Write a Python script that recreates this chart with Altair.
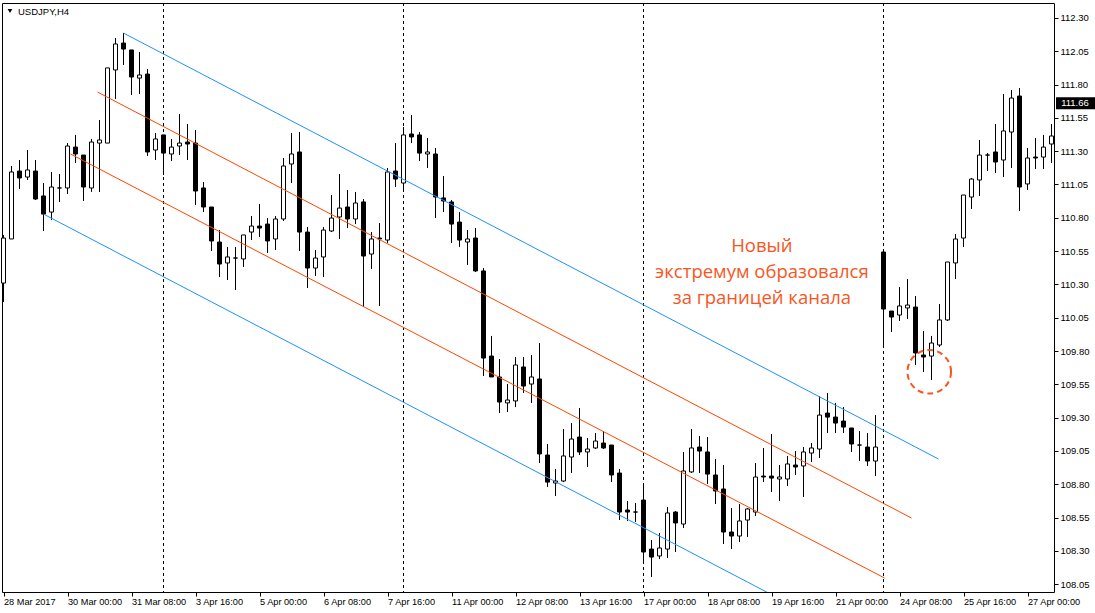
import altair as alt
import pandas as pd

# ---- candle data (USDJPY H4), bar index 0..131 ----
opens = [110.310, 110.641, 111.151, 111.106, 111.151, 110.964, 110.843, 111.024, 111.024, 111.331,
         111.271, 111.024, 111.361, 111.361, 111.910, 112.112, 112.060, 111.849, 111.879, 111.309,
         111.422, 111.279, 111.339, 111.369, 111.361, 111.024, 110.881, 110.618, 110.461, 110.498,
         110.491, 110.693, 110.738, 110.753, 110.641, 110.791, 111.204, 111.294, 110.693, 110.423,
         110.506, 110.701, 110.806, 110.881, 110.791, 110.919, 110.528, 110.648, 110.633, 111.151,
         111.061, 111.429, 111.422, 111.279, 111.279, 110.949, 110.919, 110.768, 110.618, 110.648,
         110.401, 109.762, 109.605, 109.410, 109.425, 109.680, 109.552, 109.590, 109.019, 108.809,
         108.824, 109.004, 109.154, 109.042, 109.072, 109.109, 109.094, 108.884, 108.606, 108.591,
         108.681, 108.313, 108.261, 108.313, 108.591, 108.501, 108.892, 109.079, 109.042, 108.869,
         108.764, 108.441, 108.411, 108.531, 108.591, 108.861, 108.861, 108.839, 108.839, 108.944,
         108.937, 109.034, 109.064, 109.334, 109.304, 109.274, 109.222, 109.094, 109.079, 108.974,
         110.543, 110.100, 110.070, 110.123, 110.130, 109.770, 109.762, 109.845, 110.033, 110.461,
         110.648, 110.956, 111.084, 111.271, 111.294, 111.234, 111.444, 111.714, 111.054, 111.256,
         111.256, 111.354]
highs = [110.671, 111.189, 111.234, 111.309, 111.234, 111.061, 111.144, 111.129, 111.361, 111.422,
         111.271, 111.392, 111.534, 111.925, 112.150, 112.187, 112.060, 112.045, 111.917, 111.437,
         111.422, 111.392, 111.579, 111.504, 111.459, 111.069, 110.881, 110.708, 110.581, 110.581,
         110.671, 110.813, 110.904, 110.798, 110.813, 111.249, 111.437, 111.444, 110.731, 110.558,
         110.731, 110.971, 111.129, 111.009, 110.994, 110.941, 110.693, 110.761, 111.174, 111.361,
         111.482, 111.572, 111.444, 111.399, 111.324, 111.114, 110.934, 110.843, 110.708, 110.723,
         110.423, 109.913, 109.740, 109.552, 109.755, 109.755, 109.770, 109.860, 109.102, 108.914,
         109.214, 109.259, 109.372, 109.147, 109.184, 109.199, 109.094, 108.914, 108.674, 108.659,
         108.809, 108.381, 108.434, 108.629, 108.599, 109.042, 109.214, 109.162, 109.154, 108.989,
         108.944, 108.621, 108.651, 108.621, 108.959, 109.072, 109.177, 108.944, 109.012, 109.049,
         109.079, 109.109, 109.462, 109.485, 109.410, 109.379, 109.222, 109.199, 109.184, 109.319,
         110.551, 110.100, 110.280, 110.340, 110.213, 109.950, 109.913, 110.153, 110.468, 110.678,
         110.971, 111.099, 111.384, 111.286, 111.504, 111.729, 111.759, 111.774, 111.324, 111.399,
         111.422, 111.504]
lows = [110.168, 110.641, 111.016, 111.084, 110.934, 110.701, 110.783, 110.919, 110.979, 111.211,
        110.926, 110.994, 110.994, 111.361, 111.692, 111.947, 111.722, 111.729, 111.264, 111.234,
        111.121, 111.226, 111.271, 111.234, 110.896, 110.843, 110.551, 110.355, 110.333, 110.258,
        110.431, 110.633, 110.656, 110.536, 110.558, 110.776, 111.061, 110.551, 110.273, 110.363,
        110.355, 110.693, 110.641, 110.723, 110.753, 110.130, 110.416, 110.138, 110.611, 111.031,
        110.994, 111.361, 111.226, 111.174, 110.798, 110.843, 110.611, 110.581, 110.446, 110.393,
        109.612, 109.605, 109.334, 109.342, 109.379, 109.485, 109.410, 108.959, 108.779, 108.711,
        108.816, 108.884, 109.019, 108.929, 109.064, 109.064, 108.816, 108.531, 108.524, 108.516,
        108.208, 108.103, 108.238, 108.246, 108.291, 108.471, 108.884, 108.884, 108.801, 108.651,
        108.351, 108.313, 108.366, 108.404, 108.561, 108.816, 108.741, 108.674, 108.786, 108.869,
        108.704, 108.967, 108.997, 109.184, 109.184, 109.184, 109.042, 108.974, 108.937, 108.861,
        109.830, 109.943, 110.025, 110.040, 109.695, 109.642, 109.582, 109.830, 110.025, 110.340,
        110.581, 110.866, 110.964, 111.151, 111.136, 111.106, 111.174, 110.851, 111.009, 111.166,
        111.166, 111.211]
closes = [110.648, 111.144, 111.099, 111.159, 110.941, 110.828, 111.031, 111.024, 111.339, 111.279,
          111.031, 111.369, 111.384, 111.925, 112.105, 112.067, 111.857, 111.872, 111.294, 111.392,
          111.286, 111.331, 111.361, 111.354, 111.001, 110.881, 110.626, 110.453, 110.506, 110.498,
          110.671, 110.738, 110.723, 110.626, 110.791, 111.189, 111.279, 110.693, 110.423, 110.498,
          110.708, 110.798, 110.873, 110.791, 110.911, 110.513, 110.641, 110.641, 111.144, 111.091,
          111.422, 111.407, 111.286, 111.294, 110.956, 110.926, 110.753, 110.633, 110.641, 110.401,
          109.747, 109.605, 109.417, 109.432, 109.695, 109.537, 109.605, 109.027, 108.816, 108.824,
          109.012, 109.139, 109.042, 109.064, 109.124, 109.072, 108.869, 108.591, 108.591, 108.591,
          108.291, 108.253, 108.321, 108.584, 108.509, 108.899, 109.072, 109.049, 108.876, 108.749,
          108.441, 108.411, 108.524, 108.614, 108.854, 108.854, 108.846, 108.854, 108.952, 108.929,
          109.042, 109.072, 109.319, 109.304, 109.259, 109.229, 109.102, 109.094, 108.974, 109.079,
          110.115, 110.055, 110.138, 110.145, 109.785, 109.755, 109.860, 110.033, 110.468, 110.641,
          110.971, 111.091, 111.271, 111.271, 111.219, 111.452, 111.699, 111.031, 111.249, 111.249,
          111.331, 111.414]
bars = list(range(len(opens)))

# ---- axis labels ----
time_tick_bars = [0, 8, 16, 24, 32, 40, 48, 56, 64, 72, 80, 88, 96, 104, 112, 120, 128]
time_tick_labels = ["28 Mar 2017", "30 Mar 00:00", "31 Mar 08:00", "3 Apr 16:00", "5 Apr 00:00",
                    "6 Apr 08:00", "7 Apr 16:00", "11 Apr 00:00", "12 Apr 08:00", "13 Apr 16:00",
                    "17 Apr 00:00", "18 Apr 08:00", "19 Apr 16:00", "21 Apr 00:00", "24 Apr 08:00",
                    "25 Apr 16:00", "27 Apr 00:00"]
price_ticks = [108.05, 108.30, 108.55, 108.80, 109.05, 109.30, 109.55, 109.80, 110.05, 110.30,
               110.55, 110.80, 111.05, 111.30, 111.55, 111.80, 112.05, 112.30]
week_separator_bars = [20, 50, 80, 110]

# ---- channel lines (endpoints: bar, price) ----
blue_line_id = ["upper", "upper", "lower", "lower"]
blue_bars = [15, 116.875, 5, 117]
blue_prices = [112.187, 108.989, 110.828, 107.312]
red_line_id = ["upper", "upper", "lower", "lower"]
red_bars = [11.75, 113.5, 8.375, 110.125]
red_prices = [111.744, 108.546, 111.279, 108.096]

# ---- annotation ----
note_lines = ["Новый", "экстремум образовался", "за границей канала"]
note_bar = [94.8, 94.8, 94.8]
note_price = [110.543, 110.348, 110.153]
circle_bar = [115.72]
circle_price = [109.644]
current_price = [111.66]
symbol_title = ["USDJPY,H4"]

FONT = "Liberation Sans"
ORANGE_TEXT = "#F8561E"
RED = "#FF4500"
BLUE = "#1E90FF"

candles = pd.DataFrame({"bar": bars, "open": opens, "high": highs, "low": lows, "close": closes})
candles["dir"] = ["up" if c >= o else "down" for o, c in zip(opens, closes)]

x_scale = alt.Scale(domain=[-0.1875, 131.3125], nice=False, zero=False, padding=0)
y_scale = alt.Scale(domain=[107.9907, 112.4126], nice=False, zero=False, padding=0)

label_array = "[" + ",".join("'" + s + "'" for s in time_tick_labels) + "]"
x_axis = alt.Axis(values=time_tick_bars, labelExpr=label_array + "[round(datum.value/8)]",
                  title=None, grid=False, domain=False, ticks=True, tickSize=4, tickColor="black",
                  labelAlign="left", labelBaseline="top", labelPadding=1, labelFont=FONT,
                  labelFontSize=9.2, labelColor="black", labelOverlap=False, labelFlush=False)
y_axis = alt.Axis(values=price_ticks, format=".2f", orient="right", title=None, grid=False,
                  domain=False, tickSize=4, tickColor="black", labelPadding=2, labelFont=FONT,
                  labelFontSize=9.5, labelColor="black", labelOverlap=False, labelFlush=False)


def X(field="bar"):
    return alt.X(field + ":Q", scale=x_scale, axis=x_axis)


def Y(field):
    return alt.Y(field + ":Q", scale=y_scale, axis=y_axis)


candle_base = alt.Chart(candles)

wicks = candle_base.mark_rule(color="black", strokeWidth=1).encode(
    x=X(), y=Y("low"), y2="high:Q")

bodies = candle_base.mark_bar(size=4, stroke="black", strokeWidth=1).encode(
    x=X(), y=Y("open"), y2="close:Q",
    fill=alt.Fill("dir:N", scale=alt.Scale(domain=["up", "down"], range=["white", "black"]), legend=None),
)

seps_df = pd.DataFrame({"bar": week_separator_bars})
seps = alt.Chart(seps_df).mark_rule(color="black", strokeWidth=1, strokeDash=[3, 3]).encode(x=X())

blue_df = pd.DataFrame({"bar": blue_bars, "price": blue_prices, "line": blue_line_id})
red_df = pd.DataFrame({"bar": red_bars, "price": red_prices, "line": red_line_id})

blue_lines = alt.Chart(blue_df).mark_line(color=BLUE, strokeWidth=1, clip=True).encode(
    x=X(), y=Y("price"), detail="line:N")
red_lines = alt.Chart(red_df).mark_line(color=RED, strokeWidth=1, clip=True).encode(
    x=X(), y=Y("price"), detail="line:N")

note = alt.Chart(pd.DataFrame({"bar": note_bar, "price": note_price, "t": note_lines})).mark_text(
    font="Open Sans", fontSize=18.5, color=ORANGE_TEXT, align="center", baseline="alphabetic"
).encode(x=X(), y=Y("price"), text="t:N")

circle = alt.Chart(pd.DataFrame({"bar": circle_bar, "price": circle_price})).mark_point(
    shape="circle", size=1900, filled=False, stroke=ORANGE_TEXT, strokeWidth=2,
    strokeDash=[6, 4], opacity=1
).encode(x=X(), y=Y("price"))

price_df = pd.DataFrame({"price": current_price})
price_box = alt.Chart(price_df).mark_tick(
    orient="horizontal", size=40, thickness=12, color="black", opacity=1
).encode(x=alt.value(1074), y=Y("price"))
price_text = alt.Chart(price_df).mark_text(
    font=FONT, fontSize=9.5, color="white", align="center", baseline="middle"
).encode(x=alt.value(1073), y=Y("price"), text=alt.Text("price:Q", format=".2f"))

title_df = pd.DataFrame({"t": symbol_title})
title_text = alt.Chart(title_df).mark_text(
    font=FONT, fontSize=9.5, color="black", align="left", baseline="middle"
).encode(x=alt.value(16), y=alt.value(9), text="t:N")
title_tri = alt.Chart(title_df).mark_point(
    shape="triangle-down", filled=True, size=22, color="black", opacity=1
).encode(x=alt.value(8), y=alt.value(8))

chart = alt.layer(
    seps, wicks, bodies, blue_lines, red_lines, note, circle, price_box, price_text, title_text, title_tri
).properties(
    width=1052, height=589,
    padding={"left": 2, "top": 3, "right": 41, "bottom": 21},
    autosize=alt.AutoSizeParams(type="none"),
    background="white",
).configure_view(stroke="black", strokeWidth=1)

chart.save("out.html", embed_options={"renderer": "svg", "actions": False})
